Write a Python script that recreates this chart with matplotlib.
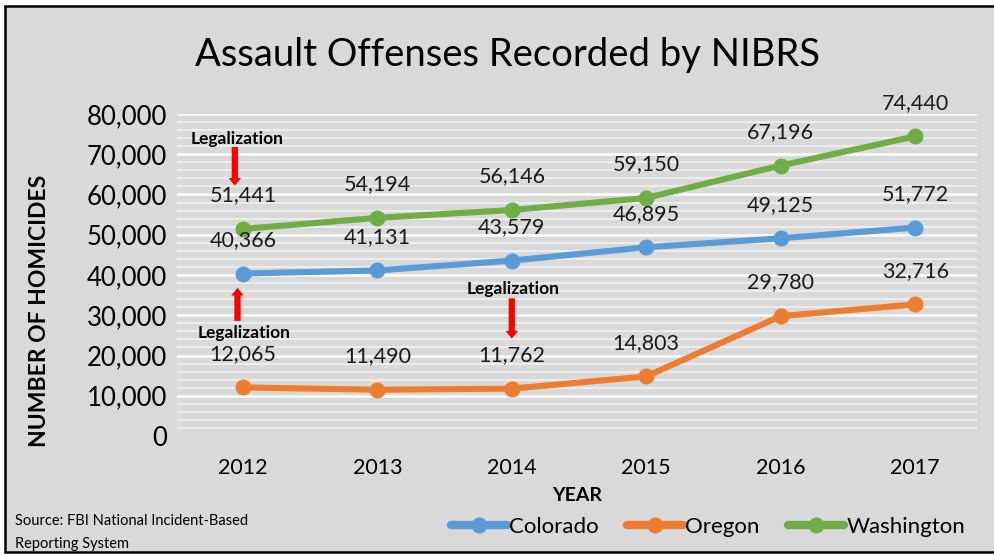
import numpy as np
import matplotlib
matplotlib.use('Agg')
import matplotlib.pyplot as plt
from matplotlib.patches import Rectangle

# data
years = ['2012', '2013', '2014', '2015', '2016', '2017']
colorado = [40366, 41131, 43579, 46895, 49125, 51772]
oregon = [12065, 11490, 11762, 14803, 29780, 32716]
washington = [51441, 54194, 56146, 59150, 67196, 74440]
yticks = [0, 10000, 20000, 30000, 40000, 50000, 60000, 70000, 80000]

plt.rcParams['font.family'] = ['Lato', 'DejaVu Sans']

fig = plt.figure(figsize=(9.95, 5.54), dpi=100)
fig.patch.set_facecolor('white')

# grey chart box with black border
fig.patches.append(Rectangle((5/995, 2/554), 1.0, 546/554, transform=fig.transFigure,
                             facecolor='#D9D9D9', edgecolor='black', linewidth=1.8, zorder=-5))

ax = fig.add_axes([177/995, 118/554, 800/995, 322/554])
ax.set_zorder(2)
ax.patch.set_alpha(0)
for s in ax.spines.values():
    s.set_visible(False)

# gridlines (major white, minor lighter), no line at 0
for v in np.arange(2000, 80001, 2000):
    if v % 10000 == 0:
        ax.axhline(v, color='white', lw=1.8, zorder=1)
    else:
        ax.axhline(v, color='#F2F2F2', lw=1.2, zorder=1)

x = np.arange(len(years))
series = [('Colorado', colorado, '#5B9BD5'),
          ('Oregon', oregon, '#ED7D31'),
          ('Washington', washington, '#70AD47')]
for name, vals, col in series:
    ax.plot(x, vals, color=col, lw=4.4, marker='o', markersize=10.5, label=name,
            solid_capstyle='round', zorder=3)
    for xi, v in zip(x, vals):
        ax.annotate(f'{v:,}', (xi, v), xytext=(0, 17), textcoords='offset points',
                    ha='center', va='bottom', fontsize=15.5, color='#1a1a1a', zorder=4)

ax.set_xlim(-0.49, 5.46)
ax.set_ylim(0, 80000)
ax.set_xticks(x)
ax.set_xticklabels(years, fontsize=15.5)
ax.set_yticks(yticks)
ax.set_yticklabels([f'{v:,}' for v in yticks], fontsize=18.5)
ax.tick_params(length=0, pad=7)
ax.tick_params(axis='x', pad=16)
ax.set_xlabel('YEAR', fontsize=14, fontweight='bold', labelpad=6)
ax.set_ylabel('NUMBER OF HOMICIDES', fontsize=16.5, fontweight='bold')
ax.yaxis.set_label_coords(-0.159, 0.388)

# legalization notes
arrow = dict(arrowstyle='simple,head_width=0.9,head_length=0.55,tail_width=0.45',
             color='red', lw=0, shrinkA=0, shrinkB=0)
ax.annotate('', xy=(-0.06, 62200), xytext=(-0.06, 71800), arrowprops=arrow)
ax.text(-0.04, 73900, 'Legalization', ha='center', va='center', fontsize=12.5, fontweight='bold')
ax.annotate('', xy=(-0.04, 36800), xytext=(-0.04, 28600), arrowprops=arrow)
ax.text(0.01, 25600, 'Legalization', ha='center', va='center', fontsize=12.5, fontweight='bold')
ax.annotate('', xy=(2.0, 24200), xytext=(2.0, 34200), arrowprops=arrow)
ax.text(2.01, 36400, 'Legalization', ha='center', va='center', fontsize=12.5, fontweight='bold')

fig.text(508/995, 1 - 55/554, 'Assault Offenses Recorded by NIBRS', ha='center', va='center',
         fontsize=27.5)

leg = fig.legend(loc='center', bbox_to_anchor=(708/995, 1 - 527/554), ncol=3, frameon=False,
                 fontsize=16, handlelength=2.5, handletextpad=0.1, columnspacing=1.3)
for h in leg.get_lines():
    h.set_linewidth(6)

fig.text(15/995, 1 - 521/554, 'Source: FBI National Incident-Based', fontsize=10.5,
         ha='left', va='center')
fig.text(15/995, 1 - 544/554, 'Reporting System', fontsize=10.5, ha='left', va='center')

fig.savefig('out.png', dpi=100)
